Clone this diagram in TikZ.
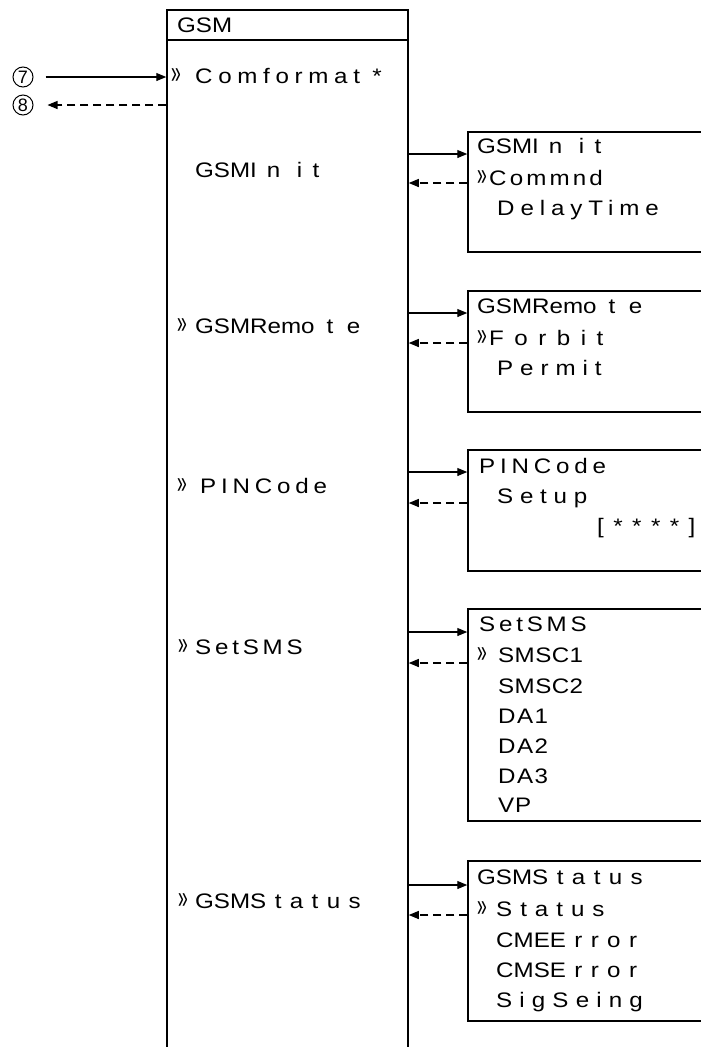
\documentclass[tikz,border=0pt]{standalone}
\usepackage{fontspec}
\usepackage{graphicx}
\setmainfont{Liberation Sans}[FakeStretch=1.15]
\newfontfamily\numfont{Liberation Sans}
\usetikzlibrary{arrows.meta}
\newcommand\mymark{\scalebox{0.8}[1.7]{»}}
\newcommand\ls[2]{{\addfontfeature{LetterSpace=#1}#2}}
\newcommand\wInit{GSMI\kern10pt n\kern16.5pt i\kern10.5pt t}
\newcommand\wRemote{GSMRemo\kern12pt t\kern13.5pt e}
\newcommand\wStatus{GSMS\kern8.5pt\ls{40}{tatus}}
\begin{document}
\begin{tikzpicture}[x=1pt,y=-1pt,
  box/.style={draw, line width=1.5pt, rectangle, inner sep=0pt},
  txt/.style={anchor=base west, inner sep=0pt, font=\fontsize{21}{21}\selectfont},
  mk/.style={anchor=base west, inner sep=0pt, font=\fontsize{19}{19}\selectfont},
  go/.style={line width=1.2pt, -{Triangle[length=10pt,width=8pt]}},
  back/.style={go, dash pattern=on 8pt off 5pt},
  num/.style={draw, circle, line width=1pt, minimum size=20pt, inner sep=0pt, font=\numfont\fontsize{18}{18}\selectfont}]
\clip (0,0) rectangle (701,1047);
\fill[white] (0,0) rectangle (701,1047);
% main column
\node[box, minimum width=241pt, minimum height=1060pt] (main) at (287.5,540) {};
\node[box, minimum width=241pt, minimum height=30pt] (head) at (287.5,25) {};
\node[txt] (tgsm) at (177,32) {GSM};
% circled references
\node[num] (c7) at (23,77) {7};
\node[num] (c8) at (23,105) {8};
\draw[go, shorten <=12pt] (c7) -- (main.west |- c7);
\draw[back, shorten >=14pt] (main.west |- c8) -- (c8);
% main labels
\node[mk] (m0) at (171,83) {\mymark};
\node[txt] (l0) at (195,83) {\ls{27}{Comformat *}};
\node[txt] (l1) at (195,177) {\wInit};
\node[mk] (m2) at (177,333) {\mymark};
\node[txt] (l2) at (195,333) {\wRemote};
\node[mk] (m3) at (177,493) {\mymark};
\node[txt] (l3) at (200,493) {\ls{23}{PINCode}};
\node[mk] (m4) at (178,654) {\mymark};
\node[txt] (l4) at (195,654) {\ls{18}{SetSMS}};
\node[mk] (m5) at (178,908) {\mymark};
\node[txt] (l5) at (195,908) {\wStatus};
% sub boxes
\node[box, minimum width=260pt, minimum height=120pt] (b1) at (598,192) {};
\node[box, minimum width=260pt, minimum height=121pt] (b2) at (598,351.5) {};
\node[box, minimum width=260pt, minimum height=121pt] (b3) at (598,510.5) {};
\node[box, minimum width=260pt, minimum height=212pt] (b4) at (598,715) {};
\node[box, minimum width=260pt, minimum height=160pt] (b5) at (598,941) {};
% connectors
\coordinate (s1) at (0,154); \coordinate (d1) at (0,183);
\coordinate (s2) at (0,313); \coordinate (d2) at (0,343);
\coordinate (s3) at (0,472); \coordinate (d3) at (0,503);
\coordinate (s4) at (0,632); \coordinate (d4) at (0,663);
\coordinate (s5) at (0,885); \coordinate (d5) at (0,915);
\foreach \i in {1,...,5}{
  \draw[go] (main.east |- s\i) -- (b\i.west |- s\i);
  \draw[back] (b\i.west |- d\i) -- (main.east |- d\i);
}
% box 1
\node[txt] (t11) at (477,153) {\wInit};
\node[mk] (k12) at (477,185) {\mymark};
\node[txt] (t12) at (489,185) {\ls{15}{Commnd}};
\node[txt] (t13) at (497,215) {\ls{28}{DelayTime}};
% box 2
\node[txt] (t21) at (477,313) {\wRemote};
\node[mk] (k22) at (477,345) {\mymark};
\node[txt] (t22) at (489,345) {\ls{50}{Forbit}};
\node[txt] (t23) at (497,375) {\ls{33}{Permit}};
% box 3
\node[txt] (t31) at (479,473) {\ls{23}{PINCode}};
\node[txt] (t32) at (497,503) {\ls{32}{Setup}};
\node[txt] (t33) at (597,533) {\ls{45}{[****]}};
% box 4
\node[txt] (t41) at (479,631) {\ls{18}{SetSMS}};
\node[mk] (k42) at (477,662) {\mymark};
\node[txt] (t42) at (498,662) {\ls{2}{SMSC1}};
\node[txt] (t43) at (498,693) {\ls{2}{SMSC2}};
\node[txt] (t44) at (498,723) {\ls{7}{DA1}};
\node[txt] (t45) at (498,753) {\ls{7}{DA2}};
\node[txt] (t46) at (498,783) {\ls{7}{DA3}};
\node[txt] (t47) at (498,812) {\ls{4}{VP}};
% box 5
\node[txt] (t51) at (477,884) {\wStatus};
\node[mk] (k52) at (477,916) {\mymark};
\node[txt] (t52) at (496,916) {\ls{38}{Status}};
\node[txt] (t53) at (496,947) {CMEE\kern8.4pt\ls{40}{rror}};
\node[txt] (t54) at (496,977) {CMSE\kern8.4pt\ls{40}{rror}};
\node[txt] (t55) at (496,1007) {\ls{34}{SigSeing}};
\end{tikzpicture}
\end{document}
